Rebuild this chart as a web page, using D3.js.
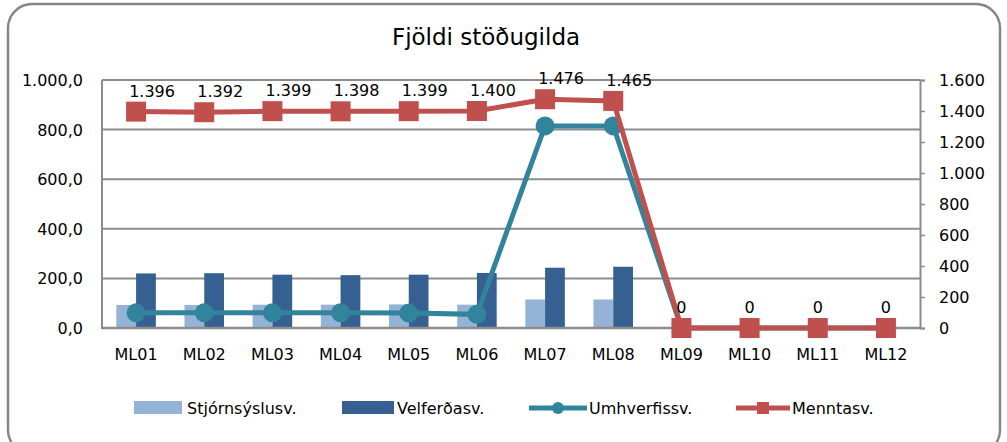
<!DOCTYPE html>
<html>
    <head>
        <script src="https://d3js.org/d3.v7.min.js"></script>
        <style>
            body { margin: 0; background: #fff; }
            text { font-family: "DejaVu Sans", sans-serif; fill: #000; }
            .title { font-size: 23px; }
            .tick-label { font-size: 16px; }
            .legend text { font-size: 16px; }
        </style>
    </head>
    <body>
        <svg width="1007" height="442"></svg>
        <script>
            // data
            var categories = ["ML01", "ML02", "ML03", "ML04", "ML05", "ML06",
                              "ML07", "ML08", "ML09", "ML10", "ML11", "ML12"];
            var stjornsysla = [93, 93, 94, 94, 95, 94, 115, 115, 0, 0, 0, 0];
            var velferd = [220, 221, 215, 213, 215, 222, 243, 247, 0, 0, 0, 0];
            var umhverfi = [61, 61, 61, 61, 60, 55, 815, 815, 0, 0, 0, 0];
            var mennta = [1396, 1392, 1399, 1398, 1399, 1400, 1476, 1465, 0, 0, 0, 0];
            var leftTicks = [0, 200, 400, 600, 800, 1000];
            var rightTicks = [0, 200, 400, 600, 800, 1000, 1200, 1400, 1600];

            var svg = d3.select("svg");
            var plotL = 102, plotR = 920, plotT = 80, plotB = 328;

            var fmtLeft = function(v) {
                return d3.format(",.1f")(v).replace(/,/g, "#").replace(".", ",").replace(/#/g, ".");
            };
            var fmtRight = function(v) {
                return d3.format(",")(v).replace(/,/g, ".");
            };

            // outer frame
            svg.append("rect")
                .attr("x", 8).attr("y", 4)
                .attr("width", 992).attr("height", 450)
                .attr("rx", 24).attr("ry", 24)
                .attr("fill", "#fff")
                .attr("stroke", "#868686")
                .attr("stroke-width", 2.5);

            svg.append("text")
                .attr("class", "title")
                .attr("x", 486).attr("y", 45)
                .attr("text-anchor", "middle")
                .text("Fjöldi stöðugilda");

            var x = d3.scaleBand().domain(categories).range([plotL, plotR]);
            var y = d3.scaleLinear().domain([0, 1000]).range([plotB, plotT]);
            var y2 = d3.scaleLinear().domain([0, 1600]).range([plotB, plotT]);

            // gridlines
            svg.append("g").selectAll("line")
                .data(leftTicks)
                .enter().append("line")
                .attr("x1", plotL).attr("x2", plotR)
                .attr("y1", function(d) { return y(d); })
                .attr("y2", function(d) { return y(d); })
                .attr("stroke", "#8c8c8c")
                .attr("stroke-width", 2);

            // left axis
            svg.append("line")
                .attr("x1", plotL).attr("x2", plotL)
                .attr("y1", plotT).attr("y2", plotB + 1)
                .attr("stroke", "#8c8c8c").attr("stroke-width", 2);
            svg.append("g").selectAll("text")
                .data(leftTicks)
                .enter().append("text")
                .attr("class", "tick-label")
                .attr("x", 83)
                .attr("y", function(d) { return y(d) + 6; })
                .attr("text-anchor", "end")
                .text(fmtLeft);

            // right axis
            var ax2 = d3.axisRight(y2).tickValues(rightTicks).tickSize(5).tickPadding(14).tickFormat(fmtRight);
            var gr = svg.append("g")
                .attr("transform", "translate(" + plotR + ",0)")
                .call(ax2);
            gr.select(".domain").attr("stroke", "#8c8c8c").attr("stroke-width", 2);
            gr.selectAll(".tick line").attr("stroke", "#8c8c8c").attr("stroke-width", 1.5);
            gr.selectAll(".tick text")
                .attr("class", "tick-label")
                .style("font-family", "DejaVu Sans")
                .style("font-size", "16px")
                .attr("fill", "#000");

            // x labels
            svg.append("g").selectAll("text")
                .data(categories)
                .enter().append("text")
                .attr("class", "tick-label")
                .attr("x", function(d) { return x(d) + x.bandwidth() / 2; })
                .attr("y", 360)
                .attr("text-anchor", "middle")
                .text(function(d) { return d; });

            // bars
            var barW = x.bandwidth() * 0.29;
            svg.append("g").selectAll("rect")
                .data(stjornsysla)
                .enter().append("rect")
                .attr("x", function(d, i) { return x(categories[i]) + x.bandwidth() / 2 - barW; })
                .attr("y", function(d) { return y(d); })
                .attr("width", barW)
                .attr("height", function(d) { return y(0) - y(d); })
                .attr("fill", "#95b3d7");
            svg.append("g").selectAll("rect")
                .data(velferd)
                .enter().append("rect")
                .attr("x", function(d, i) { return x(categories[i]) + x.bandwidth() / 2; })
                .attr("y", function(d) { return y(d); })
                .attr("width", barW)
                .attr("height", function(d) { return y(0) - y(d); })
                .attr("fill", "#366092");

            // redraw baseline on top of bars
            svg.append("line")
                .attr("x1", plotL).attr("x2", plotR)
                .attr("y1", plotB).attr("y2", plotB)
                .attr("stroke", "#8c8c8c").attr("stroke-width", 2.5);

            var cx = function(d, i) { return x(categories[i]) + x.bandwidth() / 2; };

            // Umhverfissv. line
            var lineU = d3.line().x(cx).y(function(d) { return y(d); });
            svg.append("path")
                .datum(umhverfi)
                .attr("d", lineU)
                .attr("fill", "none")
                .attr("stroke", "#31849b")
                .attr("stroke-width", 5);
            svg.append("g").selectAll("circle")
                .data(umhverfi)
                .enter().append("circle")
                .attr("cx", cx)
                .attr("cy", function(d) { return y(d); })
                .attr("r", 9.5)
                .attr("fill", "#31849b");

            // Menntasv. line
            var lineM = d3.line().x(cx).y(function(d) { return y2(d); });
            svg.append("path")
                .datum(mennta)
                .attr("d", lineM)
                .attr("fill", "none")
                .attr("stroke", "#c0504d")
                .attr("stroke-width", 5);
            svg.append("g").selectAll("rect")
                .data(mennta)
                .enter().append("rect")
                .attr("x", function(d, i) { return cx(d, i) - 10; })
                .attr("y", function(d) { return y2(d) - 10; })
                .attr("width", 20).attr("height", 20)
                .attr("fill", "#c0504d");

            // data labels
            svg.append("g").selectAll("text")
                .data(mennta)
                .enter().append("text")
                .attr("class", "tick-label")
                .attr("x", function(d, i) { return cx(d, i) + (d > 0 ? 16 : 0); })
                .attr("y", function(d) { return y2(d) - 15; })
                .attr("text-anchor", "middle")
                .text(function(d) { return fmtRight(d); });

            // legend
            var lg = svg.append("g").attr("class", "legend");
            lg.append("rect").attr("x", 134).attr("y", 401).attr("width", 48).attr("height", 13).attr("fill", "#95b3d7");
            lg.append("text").attr("x", 187).attr("y", 414).text("Stjórnsýslusv.");
            lg.append("rect").attr("x", 342).attr("y", 401).attr("width", 52).attr("height", 13).attr("fill", "#366092");
            lg.append("text").attr("x", 397).attr("y", 414).text("Velferðasv.");
            lg.append("line").attr("x1", 529).attr("x2", 587).attr("y1", 408).attr("y2", 408)
                .attr("stroke", "#31849b").attr("stroke-width", 5);
            lg.append("circle").attr("cx", 558).attr("cy", 408).attr("r", 6).attr("fill", "#31849b");
            lg.append("text").attr("x", 589).attr("y", 414).text("Umhverfissv.");
            lg.append("line").attr("x1", 736).attr("x2", 790).attr("y1", 408).attr("y2", 408)
                .attr("stroke", "#c0504d").attr("stroke-width", 5);
            lg.append("rect").attr("x", 757).attr("y", 402).attr("width", 12).attr("height", 12).attr("fill", "#c0504d");
            lg.append("text").attr("x", 792).attr("y", 414).text("Menntasv.");
        </script>
    </body>
</html>
